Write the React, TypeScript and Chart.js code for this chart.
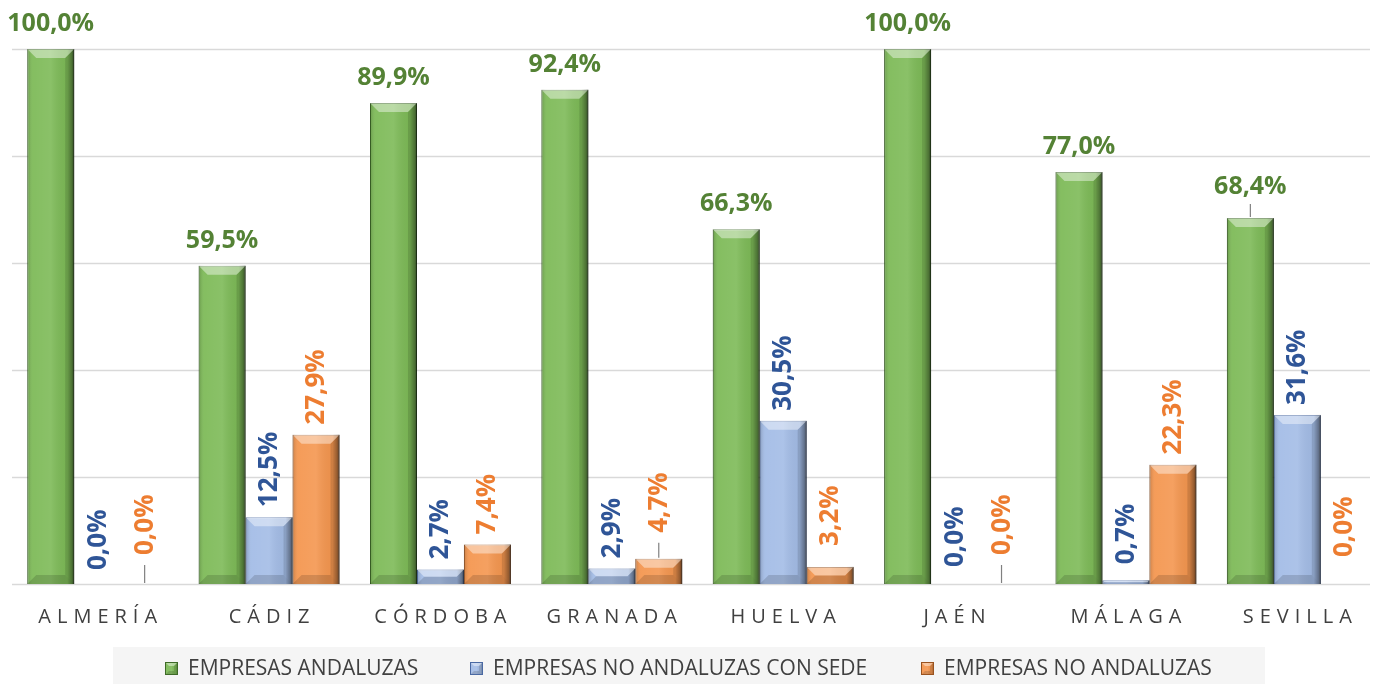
import React, { useEffect, useRef } from 'react';
import { Chart, registerables } from 'chart.js';

Chart.register(...registerables);

const categories = ['ALMERÍA', 'CÁDIZ', 'CÓRDOBA', 'GRANADA', 'HUELVA', 'JAÉN', 'MÁLAGA', 'SEVILLA'];
const seriesNames = ['EMPRESAS ANDALUZAS', 'EMPRESAS NO ANDALUZAS CON SEDE', 'EMPRESAS NO ANDALUZAS'];
const andaluzas = [100.0, 59.5, 89.9, 92.4, 66.3, 100.0, 77.0, 68.4];
const noAndaluzasConSede = [0.0, 12.5, 2.7, 2.9, 30.5, 0.0, 0.7, 31.6];
const noAndaluzas = [0.0, 27.9, 7.4, 4.7, 3.2, 0.0, 22.3, 0.0];
const yMax = 100;
const yStep = 20;
const gridValues = [0, 20, 40, 60, 80, 100];

const FONT = "'Open Sans', 'Noto Sans', sans-serif";
const fills = ['#7DBA57', '#A3BCE6', '#F4964F'];
const borders = ['#3E6A27', '#4A69A3', '#9A531F'];
const labelColors = ['#548235', '#2F5597', '#ED7D31'];

// label placement tweaks (gap above bar top, optional leader line), keyed "dataset-index"
const labelAdjust: Record<string, { gap: number; leader?: boolean }> = {
  '1-0': { gap: 14 },
  '2-0': { gap: 29, leader: true },
  '2-3': { gap: 26, leader: true },
  '2-4': { gap: 21 },
  '1-5': { gap: 17 },
  '2-5': { gap: 29, leader: true },
  '1-6': { gap: 16 },
  '0-7': { gap: 24, leader: true },
  '2-7': { gap: 27 },
};

function fmt(v: number) {
  return v.toFixed(1).replace('.', ',') + '%';
}

function drawBevel(ctx: CanvasRenderingContext2D, left: number, top: number, w: number, h: number, bevelSize: number) {
  if (h < 1) return;
  const right = left + w;
  const bottom = top + h;
  const b = Math.min(bevelSize, h / 2, w / 2);
  ctx.save();
  const g = ctx.createLinearGradient(left, 0, right, 0);
  g.addColorStop(0, 'rgba(0,0,0,0.18)');
  g.addColorStop(0.12, 'rgba(255,255,255,0.06)');
  g.addColorStop(0.5, 'rgba(255,255,255,0.10)');
  g.addColorStop(0.85, 'rgba(0,0,0,0.04)');
  g.addColorStop(0.95, 'rgba(0,0,0,0.30)');
  g.addColorStop(1, 'rgba(0,0,0,0.6)');
  ctx.fillStyle = g;
  ctx.fillRect(left, top, w, h);
  // top bevel
  ctx.beginPath();
  ctx.moveTo(left, top);
  ctx.lineTo(right, top);
  ctx.lineTo(right - b, top + b);
  ctx.lineTo(left + b, top + b);
  ctx.closePath();
  ctx.fillStyle = 'rgba(255,255,255,0.42)';
  ctx.fill();
  // bottom bevel
  ctx.beginPath();
  ctx.moveTo(left, bottom);
  ctx.lineTo(right, bottom);
  ctx.lineTo(right - b, bottom - b);
  ctx.lineTo(left + b, bottom - b);
  ctx.closePath();
  ctx.fillStyle = 'rgba(0,0,0,0.14)';
  ctx.fill();
  // right bevel
  ctx.beginPath();
  ctx.moveTo(right, top);
  ctx.lineTo(right - b, top + b);
  ctx.lineTo(right - b, bottom - b);
  ctx.lineTo(right, bottom);
  ctx.closePath();
  ctx.fillStyle = 'rgba(0,0,0,0.12)';
  ctx.fill();
  ctx.restore();
}

const overlayPlugin = {
  id: 'overlayPlugin',
  beforeDatasetsDraw(chart: any) {
    const ctx: CanvasRenderingContext2D = chart.ctx;
    const ys = chart.scales.y;
    const area = chart.chartArea;
    ctx.save();
    ctx.strokeStyle = '#D9D9D9';
    ctx.lineWidth = 1.5;
    gridValues.forEach((v) => {
      const y = Math.round(ys.getPixelForValue(v)) + 0.5;
      ctx.beginPath();
      ctx.moveTo(area.left, y);
      ctx.lineTo(area.right - 13, y);
      ctx.stroke();
    });
    ctx.restore();
  },
  afterDatasetsDraw(chart: any) {
    const ctx: CanvasRenderingContext2D = chart.ctx;
    chart.data.datasets.forEach((ds: any, di: number) => {
      const meta = chart.getDatasetMeta(di);
      meta.data.forEach((el: any) => {
        const p = el.getProps(['x', 'y', 'base', 'width'], true);
        const left = p.x - p.width / 2;
        const top = Math.min(p.y, p.base);
        const h = Math.abs(p.base - p.y);
        drawBevel(ctx, left, top, p.width, h, 9);
      });
    });
    chart.data.datasets.forEach((ds: any, di: number) => {
      const meta = chart.getDatasetMeta(di);
      meta.data.forEach((el: any, i: number) => {
        const p = el.getProps(['x', 'y'], true);
        const v = ds.data[i] as number;
        const adj = labelAdjust[`${di}-${i}`];
        const gap = adj ? adj.gap : di === 0 ? 18 : 10;
        const top = p.y;
        ctx.save();
        ctx.fillStyle = labelColors[di];
        if (di === 0) {
          ctx.font = `bold 25px ${FONT}`;
          ctx.textAlign = 'center';
          ctx.textBaseline = 'alphabetic';
          ctx.fillText(fmt(v), p.x, top - gap);
        } else {
          ctx.font = `bold 26px ${FONT}`;
          ctx.translate(p.x + 8, top - gap);
          ctx.rotate(-Math.PI / 2);
          ctx.textAlign = 'left';
          ctx.textBaseline = 'alphabetic';
          ctx.fillText(fmt(v), 0, 0);
        }
        ctx.restore();
        if (adj && adj.leader) {
          ctx.save();
          ctx.strokeStyle = '#808080';
          ctx.lineWidth = 1.2;
          ctx.beginPath();
          ctx.moveTo(p.x, top - 1);
          ctx.lineTo(p.x, top - gap + 10);
          ctx.stroke();
          ctx.restore();
        }
      });
    });
  },
  afterDraw(chart: any) {
    const ctx: CanvasRenderingContext2D = chart.ctx;
    const xs = chart.scales.x;
    ctx.save();
    ctx.font = `20px ${FONT}`;
    ctx.fillStyle = '#404040';
    ctx.textBaseline = 'alphabetic';
    ctx.textAlign = 'left';
    const ls = 6;
    (ctx as any).letterSpacing = `${ls}px`;
    categories.forEach((c, i) => {
      const cx = xs.getPixelForTick(i);
      const w = ctx.measureText(c).width;
      ctx.fillText(c, cx - (w - ls) / 2, 623);
    });
    ctx.restore();

    // legend
    ctx.save();
    ctx.fillStyle = '#F5F5F5';
    ctx.fillRect(113, 647, 1152, 37);
    const itemX = [165, 470, 921];
    ctx.font = `21px ${FONT}`;
    ctx.textBaseline = 'middle';
    ctx.textAlign = 'left';
    seriesNames.forEach((n, i) => {
      const mx = itemX[i];
      const my = 662;
      ctx.fillStyle = fills[i];
      ctx.fillRect(mx, my, 13, 13);
      drawBevel(ctx, mx, my, 13, 13, 4);
      ctx.strokeStyle = borders[i];
      ctx.lineWidth = 1;
      ctx.strokeRect(mx + 0.5, my + 0.5, 12, 12);
      ctx.fillStyle = '#404040';
      ctx.fillText(n, mx + 23, my + 7);
    });
    ctx.restore();
  },
};

export default function App() {
  const ref = useRef<HTMLCanvasElement | null>(null);
  useEffect(() => {
    if (!ref.current) return;
    const chart = new Chart(ref.current, {
      type: 'bar',
      data: {
        labels: categories,
        datasets: [andaluzas, noAndaluzasConSede, noAndaluzas].map((d, i) => ({
          label: seriesNames[i],
          data: d,
          backgroundColor: fills[i],
          borderColor: borders[i],
          borderWidth: 1,
          categoryPercentage: 0.822,
          barPercentage: 1.0,
        })),
      },
      options: {
        animation: false,
        responsive: true,
        maintainAspectRatio: false,
        layout: { padding: { left: 12, right: 5, top: 49, bottom: 100 } },
        plugins: { legend: { display: false }, tooltip: { enabled: false } },
        scales: {
          x: { display: false },
          y: {
            min: 0,
            max: yMax,
            ticks: { display: false, stepSize: yStep },
            grid: { display: false },
            border: { display: false },
            afterFit: (s: any) => {
              s.width = 0;
            },
          },
        },
      },
      plugins: [overlayPlugin],
    });
    return () => chart.destroy();
  }, []);
  return (
    <div style={{ position: 'fixed', left: 0, top: 0, width: 1388, height: 684, background: '#fff' }}>
      <canvas ref={ref} />
    </div>
  );
}
